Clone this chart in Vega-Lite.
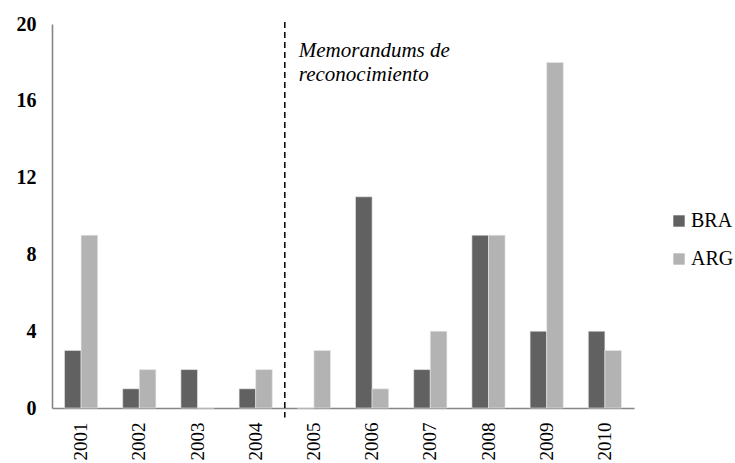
{
  "$schema": "https://vega.github.io/schema/vega-lite/v6.json",
  "width": 582,
  "height": 384,
  "autosize": {"type": "none"},
  "padding": {"left": 52, "top": 24, "right": 101, "bottom": 55},
  "background": "white",
  "config": {
    "view": {"stroke": null},
    "style": {"guide-label": {"font": "Liberation Serif", "fontSize": 19, "fill": "black"}},
    "axis": {"labelFontSize": 19, "labelOverlap": false}
  },
  "datasets": {
    "bars": [
      {"year": "2001", "country": "BRA", "value": 3},
      {"year": "2001", "country": "ARG", "value": 9},
      {"year": "2002", "country": "BRA", "value": 1},
      {"year": "2002", "country": "ARG", "value": 2},
      {"year": "2003", "country": "BRA", "value": 2},
      {"year": "2003", "country": "ARG", "value": 0},
      {"year": "2004", "country": "BRA", "value": 1},
      {"year": "2004", "country": "ARG", "value": 2},
      {"year": "2005", "country": "BRA", "value": 0},
      {"year": "2005", "country": "ARG", "value": 3},
      {"year": "2006", "country": "BRA", "value": 11},
      {"year": "2006", "country": "ARG", "value": 1},
      {"year": "2007", "country": "BRA", "value": 2},
      {"year": "2007", "country": "ARG", "value": 4},
      {"year": "2008", "country": "BRA", "value": 9},
      {"year": "2008", "country": "ARG", "value": 9},
      {"year": "2009", "country": "BRA", "value": 4},
      {"year": "2009", "country": "ARG", "value": 18},
      {"year": "2010", "country": "BRA", "value": 4},
      {"year": "2010", "country": "ARG", "value": 3}
    ],
    "note": [{"pos": 4, "top": 20.1, "bottom": -0.5, "label": ["Memorandums de", "reconocimiento"], "ly": 18.6}]
  },
  "layer": [
    {
      "data": {"name": "bars"},
      "mark": {"type": "bar", "stroke": "#e8e8e8", "strokeWidth": 0.6},
      "encoding": {
        "x": {
          "field": "year", "type": "nominal",
          "scale": {"paddingInner": 0.43, "paddingOuter": 0.215},
          "axis": {"title": null, "labelAngle": -90, "labelFont": "Liberation Serif", "labelFontSize": {"expr": "19"}, "labelColor": "black", "ticks": false, "labelPadding": 14, "domainColor": "#868686", "domainWidth": 1.6, "labelBaseline": "middle", "labelAlign": "right", "labelOverlap": false}
        },
        "xOffset": {"field": "country", "sort": ["BRA", "ARG"]},
        "y": {
          "field": "value", "type": "quantitative",
          "scale": {"domain": [0, 20], "nice": false},
          "axis": {"title": null, "values": [0,2,4,6,8,10,12,14,16,18,20], "grid": false, "ticks": false, "labelFont": "Liberation Serif", "labelFontSize": {"expr": "20"}, "labelFontWeight": "bold", "labelColor": "black", "labelPadding": 16, "domainColor": "#868686", "domainWidth": 1.6, "labelOverlap": false, "labelSeparation": 0}
        },
        "color": {
          "field": "country", "type": "nominal",
          "scale": {"domain": ["BRA", "ARG"], "range": ["#616161", "#b3b3b3"]},
          "legend": {"title": null, "orient": "none", "legendX": 617, "legendY": 187, "symbolType": "square", "symbolSize": 130, "symbolStrokeWidth": 0, "labelFont": "Liberation Serif", "labelFontSize": 20, "labelColor": "black", "rowPadding": 18, "labelOffset": 2}
        }
      }
    },
    {
      "data": {"name": "note"},
      "mark": {"type": "rule", "color": "black", "strokeWidth": 1.5, "strokeDash": [6, 4]},
      "encoding": {
        "x": {"field": "pos", "type": "quantitative", "scale": {"domain": [0, 10]}, "axis": null},
        "y": {"field": "top", "type": "quantitative"},
        "y2": {"field": "bottom"}
      }
    },
    {
      "data": {"name": "note"},
      "mark": {"type": "text", "align": "left", "baseline": "middle", "dx": 14, "font": "Liberation Serif", "fontStyle": "italic", "fontSize": 21, "lineHeight": 24, "color": "black"},
      "encoding": {
        "x": {"field": "pos", "type": "quantitative", "scale": {"domain": [0, 10]}, "axis": null},
        "y": {"field": "ly", "type": "quantitative"},
        "text": {"field": "label"}
      }
    }
  ],
  "resolve": {"scale": {"x": "independent"}}
}
